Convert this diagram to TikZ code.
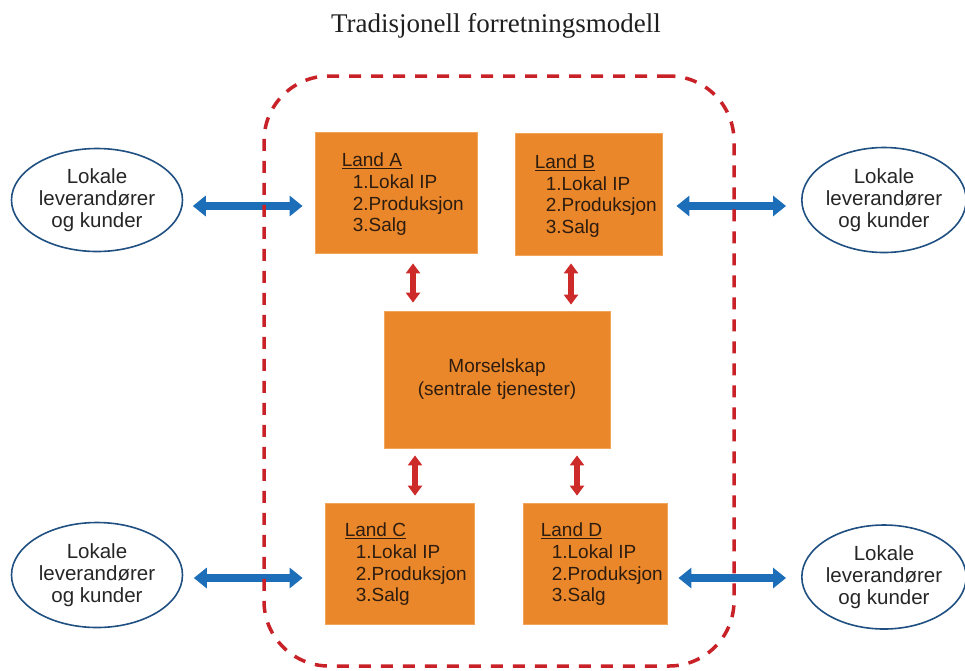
\documentclass[tikz,border=0pt]{standalone}
\usepackage{fontspec}
\setmainfont{Liberation Sans}
\newfontfamily\titlefont{Liberation Serif}
\usetikzlibrary{shapes.geometric,arrows.meta}
\definecolor{boxorange}{RGB}{233,135,42}
\definecolor{boxedge}{RGB}{242,165,90}
\definecolor{framered}{RGB}{200,34,40}
\definecolor{arrowred}{RGB}{205,42,42}
\definecolor{linkblue}{RGB}{28,110,185}
\definecolor{ellblue}{RGB}{32,80,130}
\definecolor{textdark}{RGB}{45,28,15}

\begin{document}
\begin{tikzpicture}[x=1pt,y=-1pt,
  landbox/.style={draw=boxedge, line width=0.8pt, fill=boxorange, inner sep=0pt},
  boxtext/.style={anchor=west, align=left, inner sep=0pt, text=textdark,
    font=\fontsize{19}{21.7}\selectfont},
  partner/.style={ellipse, draw=ellblue, line width=1.6pt, fill=white, align=center,
    inner sep=0pt, text=black!85, font=\fontsize{20.5}{21.7}\selectfont},
  bluelink/.style={draw=linkblue, line width=7.5pt,
    {Triangle[width=20pt,length=13pt]}-{Triangle[width=20pt,length=13pt]}},
  redlink/.style={draw=arrowred, line width=5.5pt,
    {Triangle[width=14pt,length=10pt]}-{Triangle[width=14pt,length=10pt]}},
  groupframe/.style={draw=framered, line width=3.5pt, dash pattern=on 12pt off 10pt,
    rounded corners=65pt, inner sep=0pt}]

\useasboundingbox (0,0) rectangle (965,670);

% title
\node[anchor=base, text=black!88, font=\titlefont\fontsize{27}{30}\selectfont] (T)
  at (496,32) {Tradisjonell forretningsmodell};

% country units
\node[landbox, minimum width=162pt, minimum height=121pt] (A) at (396,192.5) {};
\node[landbox, minimum width=147pt, minimum height=122pt] (B) at (588.5,194) {};
\node[landbox, minimum width=149pt, minimum height=121pt] (C) at (399.5,563.5) {};
\node[landbox, minimum width=144pt, minimum height=121pt] (D) at (595,563.5) {};

\node[boxtext] (At) at ([xshift=27pt,yshift=-2pt]A.west)
  {\underline{Land A}\\\hspace*{11pt}1.Lokal IP\\\hspace*{11pt}2.Produksjon\\\hspace*{11pt}3.Salg};
\node[boxtext] (Bt) at ([xshift=20pt,yshift=-2pt]B.west)
  {\underline{Land B}\\\hspace*{11pt}1.Lokal IP\\\hspace*{11pt}2.Produksjon\\\hspace*{11pt}3.Salg};
\node[boxtext] (Ct) at ([xshift=20pt,yshift=-1pt]C.west)
  {\underline{Land C}\\\hspace*{11pt}1.Lokal IP\\\hspace*{11pt}2.Produksjon\\\hspace*{11pt}3.Salg};
\node[boxtext] (Dt) at ([xshift=18pt,yshift=-1pt]D.west)
  {\underline{Land D}\\\hspace*{11pt}1.Lokal IP\\\hspace*{11pt}2.Produksjon\\\hspace*{11pt}3.Salg};

% parent company
\node[landbox, minimum width=226pt, minimum height=137pt, align=center, text=textdark,
  font=\fontsize{19}{23}\selectfont] (M) at (497,379.5)
  {Morselskap\\(sentrale tjenester)};

% local suppliers and customers
\node[partner, minimum width=171pt, minimum height=103pt] (LA) at (97,200)
  {Lokale\\leverandører\\og kunder};
\node[partner, minimum width=158pt, minimum height=105pt] (RB) at (884,200)
  {Lokale\\leverandører\\og kunder};
\node[partner, minimum width=171pt, minimum height=105pt] (LC) at (97,575)
  {Lokale\\leverandører\\og kunder};
\node[partner, minimum width=158pt, minimum height=104pt] (RD) at (884,577)
  {Lokale\\leverandører\\og kunder};

% links to local partners
\draw[bluelink, shorten <=9.5pt, shorten >=12pt] (LA.east |- 0,206) -- (A.west |- 0,206);
\draw[bluelink, shorten <=14pt, shorten >=15pt] (B.east |- 0,206) -- (RB.west |- 0,206);
\draw[bluelink, shorten <=10.5pt, shorten >=22pt] (LC.east |- 0,578) -- (C.west |- 0,578);
\draw[bluelink, shorten <=11pt, shorten >=15pt] (D.east |- 0,578) -- (RD.west |- 0,578);

% links to the parent company
\draw[redlink, shorten <=10pt, shorten >=8pt] (A.south -| 413,0) -- (M.north -| 413,0);
\draw[redlink, shorten <=8pt, shorten >=6pt] (B.south -| 571,0) -- (M.north -| 571,0);
\draw[redlink, shorten <=7pt, shorten >=7pt] (M.south -| 415,0) -- (C.north -| 415,0);
\draw[redlink, shorten <=7pt, shorten >=7pt] (M.south -| 577,0) -- (D.north -| 577,0);

% group boundary
\node[groupframe, minimum width=470pt, minimum height=590pt] (G) at (499,371) {};

\end{tikzpicture}
\end{document}
